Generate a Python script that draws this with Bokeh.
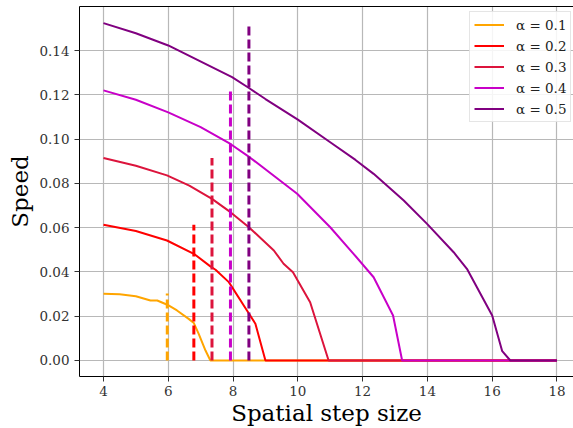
from bokeh.plotting import figure
from bokeh.models import Range1d, FixedTicker, NumeralTickFormatter, Legend, LegendItem, LinearAxis
from bokeh.embed import file_html
from bokeh.resources import INLINE

alphas = ["α = 0.1", "α = 0.2", "α = 0.3", "α = 0.4", "α = 0.5"]
colors = ["#FFA500", "#FF0000", "#DC143C", "#C800C8", "#800080"]

x1 = [4.0, 4.5, 5.0, 5.45, 5.66, 5.97, 6.27, 6.63, 6.79, 6.94, 7.15, 7.30, 18.0]
y1 = [0.0301, 0.0299, 0.0290, 0.0271, 0.0271, 0.0252, 0.0226, 0.0188, 0.0169, 0.0120, 0.0045, 0.0, 0.0]

x2 = [4.0, 5.0, 5.96, 6.79, 7.30, 7.46, 7.87, 8.43, 8.69, 9.0, 18.0]
y2 = [0.0613, 0.0585, 0.0542, 0.0482, 0.0425, 0.0410, 0.0354, 0.0226, 0.0166, 0.0, 0.0]

x3 = [4.0, 5.0, 5.96, 6.65, 7.35, 7.92, 8.49, 9.26, 9.56, 9.85, 10.38, 10.95, 18.0]
y3 = [0.0915, 0.0880, 0.0836, 0.0790, 0.0730, 0.0670, 0.0602, 0.0497, 0.0437, 0.0399, 0.0263, 0.0, 0.0]

x4 = [4.0, 5.0, 6.0, 7.0, 7.92, 8.54, 9.98, 11.0, 11.72, 12.34, 12.94, 13.22, 18.0]
y4 = [0.1220, 0.1178, 0.1121, 0.1054, 0.0978, 0.0915, 0.0753, 0.0602, 0.0482, 0.0376, 0.0203, 0.0, 0.0]

x5 = [4.0, 5.0, 6.0, 7.97, 8.49, 9.0, 10.0, 11.0, 11.78, 12.34, 13.27, 13.99, 14.81, 15.22, 16.0, 16.31, 16.56, 18.0]
y5 = [0.1524, 0.1478, 0.1423, 0.1280, 0.1231, 0.1181, 0.1088, 0.0986, 0.0906, 0.0843, 0.0723, 0.0617, 0.0489, 0.0414, 0.0203, 0.0042, 0.0, 0.0]

vline_x = [5.97, 6.79, 7.35, 7.92, 8.49]
vline_top = [0.0303, 0.0613, 0.0915, 0.1220, 0.1524]

x_ticks = [4, 6, 8, 10, 12, 14, 16, 18]
y_ticks = [0.0, 0.02, 0.04, 0.06, 0.08, 0.10, 0.12, 0.14]

series_x = [x1, x2, x3, x4, x5]
series_y = [y1, y2, y3, y4, y5]

FONT = "DejaVu Serif"

p = figure(width=573, height=428, output_backend="svg", toolbar_location=None,
           x_range=Range1d(3.26, 18.51), y_range=Range1d(-0.00723, 0.1599))
p.min_border_left = 79
p.min_border_right = 0
p.min_border_top = 6
p.min_border_bottom = 52
p.background_fill_color = "white"
p.border_fill_color = "white"
p.outline_line_color = None

p.xaxis.ticker = FixedTicker(ticks=x_ticks)
p.yaxis.ticker = FixedTicker(ticks=y_ticks)
p.yaxis.formatter = NumeralTickFormatter(format="0.00")
for ax in (p.xaxis, p.yaxis):
    ax.axis_line_color = "black"
    ax.axis_line_width = 1
    ax.major_tick_out = 5
    ax.major_tick_in = 0
    ax.minor_tick_line_color = None
    ax.major_tick_line_color = "#333333"
    ax.major_label_text_font = FONT
    ax.major_label_text_font_size = "13.5px"
    ax.major_label_text_color = "#333333"
    ax.axis_label_text_font = FONT
    ax.axis_label_text_font_size = "23px"
    ax.axis_label_text_font_style = "normal"
    ax.axis_label_text_color = "black"
    ax.major_label_standoff = 5
    ax.axis_label_standoff = 3
p.xaxis.axis_label = "Spatial step size"
p.yaxis.axis_label = "Speed"
p.xaxis.major_label_standoff = 4
p.xaxis.axis_label_standoff = 1

top_axis = LinearAxis(ticker=FixedTicker(ticks=[]), axis_line_color="black",
                      axis_line_width=1, major_tick_out=0, major_tick_in=0,
                      minor_tick_out=0, minor_tick_in=0,
                      major_label_standoff=0, axis_label_standoff=0)
p.add_layout(top_axis, "above")

p.xgrid.grid_line_color = "#b8b8b8"
p.ygrid.grid_line_color = "#b8b8b8"
p.xgrid.grid_line_width = 1.2
p.ygrid.grid_line_width = 1.2

items = []
for i in range(5):
    r = p.line(series_x[i], series_y[i], line_color=colors[i], line_width=2)
    items.append(LegendItem(label=alphas[i], renderers=[r]))
    p.segment(x0=[vline_x[i]], y0=[0.0], x1=[vline_x[i]], y1=[vline_top[i]],
              line_color=colors[i], line_width=3, line_dash="9 4")

legend = Legend(items=items, location=(390, 254))
legend.label_text_font = FONT
legend.label_text_font_size = "13.5px"
legend.label_text_color = "#222222"
legend.glyph_width = 30
legend.glyph_height = 17
legend.label_height = 17
legend.spacing = 4
legend.padding = 4
legend.margin = 0
legend.label_standoff = 12
legend.border_line_color = "#cccccc"
legend.border_line_width = 1
legend.background_fill_alpha = 0.85
p.add_layout(legend)

open("out.html", "w").write(file_html(p, INLINE))
